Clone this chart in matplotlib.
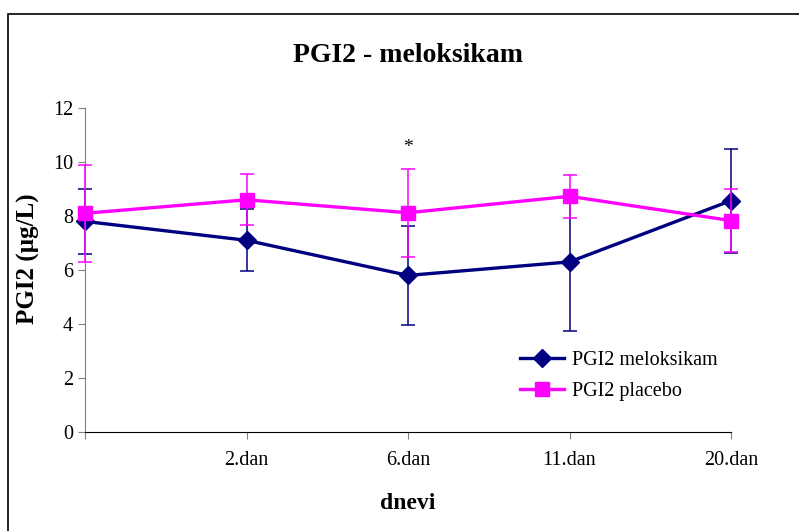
import matplotlib.pyplot as plt
from matplotlib.patches import Rectangle

plt.rcParams['font.family'] = ['Liberation Serif', 'DejaVu Serif']

# data
days = ['', '2.dan', '6.dan', '11.dan', '20.dan']
meloksikam = [7.8, 7.1, 5.8, 6.3, 8.57]
meloksikam_err = [1.2, 1.15, 1.82, 2.56, 1.93]
placebo = [8.1, 8.6, 8.12, 8.73, 7.83]
placebo_err = [1.8, 0.95, 1.62, 0.79, 1.17]

fig = plt.figure(figsize=(7.99, 5.31), dpi=100)
fig.patches.append(Rectangle((8 / 799, -0.1), 1.2, 1.1 - 14 / 531,
                             transform=fig.transFigure, fill=False,
                             edgecolor='black', linewidth=1.2))

ax = fig.add_axes([85 / 799, 1 - 432 / 531, (731 - 85) / 799, (432 - 108) / 531])
x = list(range(len(days)))

ax.errorbar(x, meloksikam, yerr=meloksikam_err, color='#000080', marker='D',
            markersize=9, linewidth=2.4, elinewidth=1.1, capsize=5, capthick=1.1,
            label='PGI2 meloksikam', zorder=2, clip_on=False)
ax.errorbar(x, placebo, yerr=placebo_err, color='#FF00FF', marker='s',
            markersize=10, linewidth=2.4, elinewidth=1.1, capsize=5, capthick=1.1,
            label='PGI2 placebo', zorder=3, clip_on=False)

ax.text(2, 10.55, '*', ha='center', va='center', fontsize=14)

ax.set_xlim(0, 4)
ax.set_ylim(0, 12)
ax.set_xticks(x)
ax.set_xticklabels(days, fontsize=14.5)
ax.set_yticks(range(0, 13, 2))
ax.tick_params(axis='y', labelsize=14.5, direction='out', length=5, color='#808080')
ax.tick_params(axis='x', direction='out', length=5, color='#808080', pad=9)

for side in ['top', 'right']:
    ax.spines[side].set_visible(False)
ax.spines['left'].set_color('#808080')
ax.spines['bottom'].set_color('black')

ax.set_title('PGI2 - meloksikam', fontsize=20, fontweight='bold', pad=33)
ax.set_ylabel('PGI2 (µg/L)', fontsize=18, fontweight='bold')
ax.yaxis.set_label_coords(-0.07, 0.535)
ax.set_xlabel('dnevi', fontsize=17, fontweight='bold', labelpad=16)

handles, labels = ax.get_legend_handles_labels()
handles = [h[0] for h in handles]
ax.legend(handles, labels, loc='upper left', bbox_to_anchor=(0.645, 0.305),
          frameon=False, fontsize=14.5, handlelength=2.2, handletextpad=0.4,
          labelspacing=0.55)

fig.savefig('out.png', dpi=100)
